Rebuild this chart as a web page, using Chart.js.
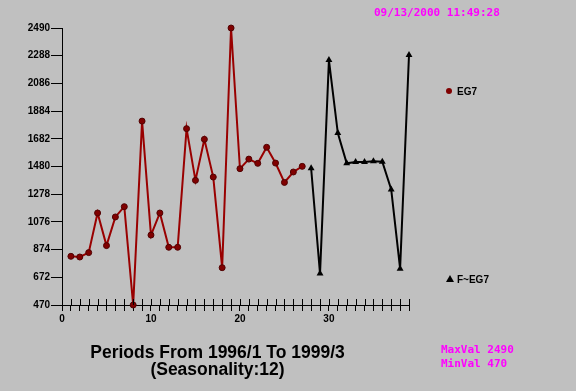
<!DOCTYPE html>
<html lang="en">
<head>
<meta charset="UTF-8">
<title>EG7</title>
<script src="https://cdn.jsdelivr.net/npm/chart.js"></script>
<style>
    body { margin: 0; background: #c0c0c0; }
    .pagina { position: relative; width: 576px; height: 391px; background: #c0c0c0; overflow: hidden; }
    canvas { position: absolute; left: 0; top: 0; }
    .mag { position: absolute; color: #ff00ff; font: bold 11px "DejaVu Sans Mono", monospace; line-height: 14px; white-space: pre; }
    .leg { position: absolute; font: bold 10px "Liberation Sans", Arial, sans-serif; color: #000; line-height: 12px; }
    .leg .ponto { display: inline-block; width: 6px; height: 6px; border-radius: 50%; background: #800000; margin-right: 5px; vertical-align: 1px; }
    .leg .tri { display: inline-block; width: 0; height: 0; border-left: 4px solid transparent; border-right: 4px solid transparent; border-bottom: 7px solid #000; margin-right: 3px; vertical-align: 1px; }
    .titulo { position: absolute; left: 0; width: 435px; text-align: center; font: bold 17.5px "Liberation Sans", Arial, sans-serif; color: #000; line-height: 17px; }
</style>
</head>
<body>
<div class="pagina">
    <canvas id="grafico" width="576" height="391"></canvas>
    <div class="mag" style="left:374px; top:6px;">09/13/2000 11:49:28</div>
    <div class="leg" style="left:446px; top:86px;"><span class="ponto"></span>EG7</div>
    <div class="leg" style="left:446px; top:274px;"><span class="tri"></span>F~EG7</div>
    <div class="titulo" style="top:344px;">Periods From 1996/1 To 1999/3<br>(Seasonality:12)</div>
    <div class="mag" style="left:441px; top:343px;">MaxVal 2490
MinVal 470</div>
</div>
<script>
    // valores
    const yTicks = [470, 672, 874, 1076, 1278, 1480, 1682, 1884, 2086, 2288, 2490];
    const xLabels = [0, 10, 20, 30];
    const eg7Inicio = 1;
    const eg7 = [825, 820, 852, 1141, 903, 1112, 1187, 470, 1811, 980,
                 1141, 891, 891, 1756, 1379, 1678, 1403, 742, 2490, 1464,
                 1534, 1503, 1620, 1505, 1364, 1440, 1481];
    const previsaoInicio = 28;
    const previsao = [1467, 699, 2256, 1724, 1503, 1513, 1513, 1518, 1515, 1313, 735, 2293];

    const pontos = (inicio, valores) => valores.map((v, i) => ({ x: inicio + i, y: v }));

    // ticks do eixo x atravessando a linha
    const ticksCruzados = {
        id: 'ticksCruzados',
        afterDraw(chart) {
            const ctx = chart.ctx;
            const sx = chart.scales.x;
            const base = chart.chartArea.bottom;
            ctx.save();
            ctx.strokeStyle = '#000';
            ctx.lineWidth = 1;
            sx.ticks.forEach(t => {
                const px = Math.round(sx.getPixelForValue(t.value)) + 0.5;
                ctx.beginPath();
                ctx.moveTo(px, base - 6);
                ctx.lineTo(px, base);
                ctx.stroke();
            });
            ctx.restore();
        }
    };

    const ctx = document.getElementById('grafico').getContext('2d');
    new Chart(ctx, {
        type: 'line',
        data: {
            datasets: [
                {
                    label: 'EG7',
                    data: pontos(eg7Inicio, eg7),
                    borderColor: '#990000',
                    backgroundColor: '#800000',
                    pointBorderColor: '#500000',
                    borderWidth: 2,
                    pointRadius: 3,
                    pointBorderWidth: 1,
                    tension: 0,
                    clip: false
                },
                {
                    label: 'F~EG7',
                    data: pontos(previsaoInicio, previsao),
                    borderColor: '#000',
                    backgroundColor: '#000',
                    borderWidth: 2,
                    pointStyle: 'triangle',
                    pointRadius: 4,
                    pointBorderWidth: 0,
                    tension: 0,
                    clip: false
                }
            ]
        },
        options: {
            responsive: false,
            animation: false,
            devicePixelRatio: 1,
            layout: { padding: { left: 0, right: 167, top: 28, bottom: 56 } },
            plugins: { legend: { display: false }, tooltip: { enabled: false } },
            scales: {
                x: {
                    type: 'linear',
                    min: 0,
                    max: 39,
                    afterFit: s => { s.height = 30; },
                    afterBuildTicks: s => {
                        const t = [];
                        for (let i = 0; i <= 39; i++) t.push({ value: i });
                        s.ticks = t;
                    },
                    border: { color: '#000', width: 1 },
                    grid: { drawOnChartArea: false, color: '#000', tickLength: 6 },
                    ticks: {
                        autoSkip: false,
                        maxRotation: 0,
                        padding: 2,
                        color: '#000',
                        font: { family: 'Liberation Sans', size: 10, weight: 'bold' },
                        callback: v => xLabels.includes(v) ? String(v) : ''
                    }
                },
                y: {
                    min: 470,
                    max: 2490,
                    afterFit: s => { s.width = 62; },
                    afterBuildTicks: s => { s.ticks = yTicks.map(v => ({ value: v })); },
                    border: { color: '#000', width: 1 },
                    grid: { drawOnChartArea: false, color: '#000', tickLength: 11 },
                    ticks: {
                        padding: 1,
                        color: '#000',
                        font: { family: 'Liberation Sans', size: 10, weight: 'bold' },
                        callback: v => String(v)
                    }
                }
            }
        },
        plugins: [ticksCruzados]
    });
</script>
</body>
</html>
